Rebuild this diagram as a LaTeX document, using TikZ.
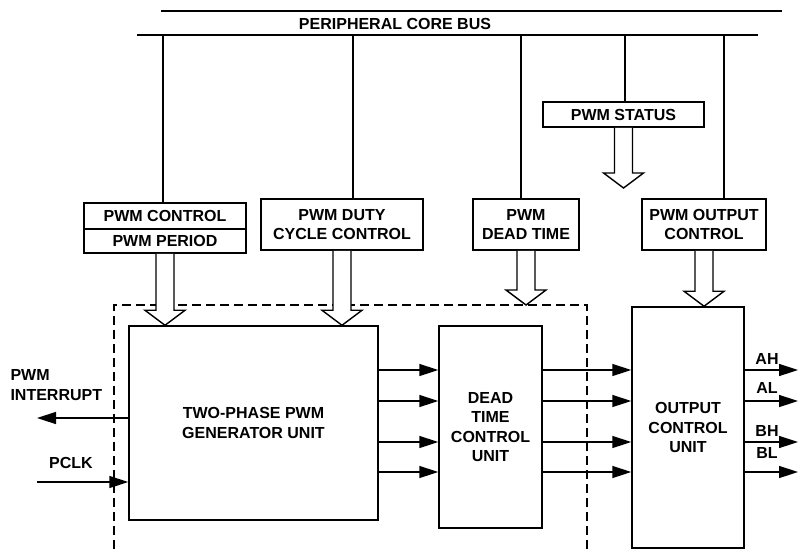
\documentclass[tikz,border=0pt]{standalone}
\usepackage{fontspec}
\setmainfont{Liberation Sans}
\usetikzlibrary{arrows.meta, calc}

\tikzset{
    blk/.style={draw, line width=1.5pt, align=center, inner sep=0pt},
    bus/.style={line width=2pt},
    tap/.style={line width=1.3pt},
    sig/.style={line width=1.5pt, -{Triangle[length=19pt,width=12pt]}},
    bnd/.style={line width=1.5pt, dash pattern=on 9pt off 5pt},
    fat/.style={line width=1.4pt, fill=white, line join=miter},
}
\newcommand{\fatarrow}[2]{%
    \draw[fat] let \p1=(#1), \p2=(#2) in
        (\x1-9pt,\y1) -- (\x1-9pt,\y2+15pt) -- (\x1-20pt,\y2+15pt) -- (\x1,\y2)
        -- (\x1+20pt,\y2+15pt) -- (\x1+9pt,\y2+15pt) -- (\x1+9pt,\y1);}

\begin{document}
\begin{tikzpicture}[x=1pt, y=-1pt, font=\fontsize{16}{19.5}\selectfont\bfseries]
    \useasboundingbox (0,0) rectangle (798,549);

    % bus
    \coordinate (busb) at (137,35);
    \draw[bus] (161,11) -- (782,11);
    \draw[bus] (busb) -- (758,35);
    \node (buslbl) at (395,24) {PERIPHERAL CORE BUS};

    % registers
    \node[blk, minimum width=162pt, minimum height=26pt] (ctrl) at (165,216) {PWM CONTROL};
    \node[blk, minimum width=162pt, minimum height=24pt] (per) at (165,241) {PWM PERIOD};
    \node[blk, minimum width=162pt, minimum height=51pt] (duty) at (342,224.5) {PWM DUTY\\CYCLE CONTROL};
    \node[blk, minimum width=106pt, minimum height=51pt] (dead) at (526,224.5) {PWM\\DEAD TIME};
    \node[blk, minimum width=124pt, minimum height=51pt] (outc) at (704,224.5) {PWM OUTPUT\\CONTROL};
    \node[blk, minimum width=161pt, minimum height=25pt] (stat) at (623.5,114.5) {PWM STATUS};

    \foreach \n/\x in {ctrl/163, duty/353, dead/521, stat/625, outc/724} {
        \coordinate (tap\n) at (\x,35);
        \draw[tap] (tap\n) -- (tap\n |- \n.north);
    }

    % units
    \node[blk, minimum width=249pt, minimum height=194pt] (gen) at (253.5,423) {TWO-PHASE PWM\\GENERATOR UNIT};
    \node[blk, minimum width=103pt, minimum height=202pt] (dtu) at (490.5,427) {DEAD\\TIME\\CONTROL\\UNIT};
    \node[blk, minimum width=112pt, minimum height=241pt] (ocu) at (688,427.5) {OUTPUT\\CONTROL\\UNIT};

    % boundary
    \coordinate (dbox) at (114,305);
    \draw[bnd] (114,549) -- (dbox) -- (587,305) -- (587,549);

    % wide arrows
    \coordinate (stip) at (624,188);
    \fatarrow{per.south}{per.south |- gen.north}
    \fatarrow{duty.south}{duty.south |- gen.north}
    \fatarrow{dead.south}{dead.south |- dbox}
    \fatarrow{outc.south}{outc.south |- ocu.north}
    \fatarrow{stat.south}{stip}

    % signals
    \foreach \y in {370,401,442,472} {
        \draw[sig] (gen.east |- 0,\y) -- (dtu.west |- 0,\y);
        \draw[sig] (dtu.east |- 0,\y) -- (ocu.west |- 0,\y);
        \coordinate (out\y) at (798,\y);
        \draw[sig] (ocu.east |- out\y) -- (out\y);
    }
    \node (ah) at (767,359) {AH};
    \node (al) at (767,388) {AL};
    \node (bh) at (767,431) {BH};
    \node (bl) at (767,453) {BL};

    \coordinate (irq) at (37,418);
    \coordinate (clk) at (37,482);
    \draw[sig] (gen.west |- irq) -- (irq);
    \draw[sig] (clk) -- (gen.west |- clk);
    \node[anchor=west, align=left] (irqlbl) at (7,385) {PWM\\INTERRUPT};
    \node (clklbl) at (71,463) {PCLK};
\end{tikzpicture}
\end{document}
